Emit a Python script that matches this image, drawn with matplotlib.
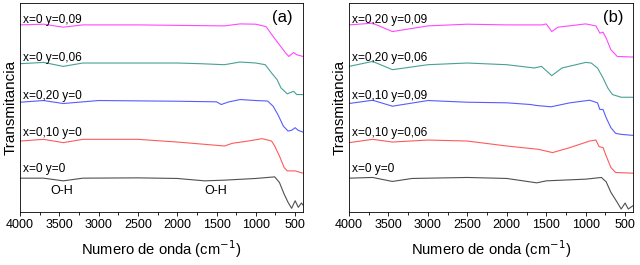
import numpy as np
import matplotlib
matplotlib.use("Agg")
import matplotlib.pyplot as plt
from matplotlib.ticker import MultipleLocator

plt.rcParams['font.family'] = ['Liberation Sans', 'DejaVu Sans']

# ---- panel (a) ----
wn_a0 = [4000, 3700, 3450, 3200, 2500, 2000, 1650, 1400, 1000, 760, 700, 640, 590, 545, 500, 460, 420, 400]
tr_a0 = [34, 34, 31.3, 34, 34.3, 33.7, 31.3, 32, 33.7, 35.3, 29.7, 18, 9.7, 3.7, 11.3, 4.7, 9, 7]

wn_a1 = [4000, 3700, 3450, 3200, 2500, 2000, 1500, 1400, 1300, 1100, 920, 800, 760, 700, 640, 600, 500, 400]
tr_a1 = [71.3, 73, 69.7, 73, 73, 70.3, 67, 66.3, 69, 71.3, 73.7, 71.3, 66.3, 56.3, 44.7, 41.3, 41.3, 39]

wn_a2 = [4000, 3700, 3450, 3000, 2000, 1500, 1440, 1350, 1200, 1000, 850, 780, 720, 650, 590, 540, 500, 460, 400]
tr_a2 = [110.3, 112, 109, 112, 111.3, 110.7, 108, 110.5, 113, 112, 111.5, 106.3, 98, 86.3, 81.3, 82.3, 84.7, 82, 80.3]

wn_a3 = [4000, 3700, 3450, 3200, 2000, 1700, 1400, 1200, 1000, 880, 800, 730, 680, 600, 520, 480, 400]
tr_a3 = [149, 150.3, 146.3, 149.7, 149.7, 149, 148, 150.7, 149.7, 148, 139.7, 133, 124.7, 118.7, 121.3, 118, 118]

wn_a4 = [4000, 3700, 3450, 3200, 2500, 1400, 1200, 1000, 870, 780, 700, 620, 580, 520, 480, 400]
tr_a4 = [188, 188.7, 185.7, 188, 188, 187, 189, 188.7, 186.3, 176.3, 168, 159.7, 156.3, 160.3, 158, 156.3]

# ---- panel (b) ----
wn_b0 = [4000, 3700, 3450, 3200, 2500, 2000, 1620, 1500, 1000, 800, 740, 680, 600, 550, 500, 460, 400]
tr_b0 = [34, 34.7, 30.7, 33.7, 34.7, 33.7, 29.3, 31.3, 33, 34.7, 30.3, 19.7, 9.7, 3, 9, 3, 6.3]

wn_b1 = [4000, 3700, 3450, 3000, 2500, 2000, 1600, 1420, 1200, 950, 870, 830, 780, 740, 680, 620, 400]
tr_b1 = [69.7, 73, 70.3, 72.3, 71.3, 66.3, 63, 59.7, 64.7, 71.3, 72.3, 65.7, 64.7, 56.3, 44.7, 39.7, 39]

wn_b2 = [4000, 3700, 3450, 3000, 2500, 2000, 1700, 1620, 1440, 1200, 950, 850, 820, 780, 740, 680, 620, 550, 400]
tr_b2 = [109, 112.3, 106.3, 112, 110.3, 109.7, 108, 107, 105.7, 109.7, 112.3, 109.7, 103, 103, 94.7, 84.7, 79, 78, 77]

wn_b3 = [4000, 3700, 3450, 3000, 2500, 2000, 1650, 1560, 1430, 1300, 1000, 930, 850, 780, 720, 660, 550, 400]
tr_b3 = [146.3, 151.3, 143, 148, 149.7, 148, 144.7, 146.3, 137, 144.7, 150.3, 149.7, 144.7, 134.7, 124.7, 118, 115.3, 115.3]

wn_b4 = [4000, 3700, 3450, 3000, 2500, 2000, 1550, 1500, 1430, 1350, 1000, 870, 820, 780, 740, 680, 600, 400]
tr_b4 = [188, 189.7, 181.3, 187, 188.7, 188, 188, 189, 181.3, 185.7, 189, 187, 179.7, 180.7, 174.7, 163, 156.3, 155.7]

colors = ['#505050', '#ff5a5a', '#5a5aff', '#48a096', '#ff48ff']
labels_a = ['x=0 y=0', 'x=0,10 y=0', 'x=0,20 y=0', 'x=0 y=0,06', 'x=0 y=0,09']
labels_b = ['x=0 y=0', 'x=0,10 y=0,06', 'x=0,10 y=0,09', 'x=0,20 y=0,06', 'x=0,20 y=0,09']
label_y = [43, 79, 117, 155, 193]

panels = [
    ([(wn_a0, tr_a0), (wn_a1, tr_a1), (wn_a2, tr_a2), (wn_a3, tr_a3), (wn_a4, tr_a4)], labels_a, '(a)'),
    ([(wn_b0, tr_b0), (wn_b1, tr_b1), (wn_b2, tr_b2), (wn_b3, tr_b3), (wn_b4, tr_b4)], labels_b, '(b)'),
]

fig = plt.figure(figsize=(6.4, 2.65), dpi=100)
ax_a = fig.add_axes([20/640, 1-212/265, 283/640, 209/265])
ax_b = fig.add_axes([349/640, 1-212/265, 284/640, 209/265])

for ax, (curves, labels, tag) in zip([ax_a, ax_b], panels):
    for (wn, tr), c, lab, ly in zip(curves, colors, labels, label_y):
        ax.plot(wn, tr, color=c, lw=0.8)
        ax.text(3960, ly, lab, fontsize=8.6, va='center', ha='left')
    ax.set_xlim(4000, 400)
    ax.set_ylim(0, 210)
    ax.set_yticks([])
    ax.xaxis.set_major_locator(MultipleLocator(500))
    ax.xaxis.set_minor_locator(MultipleLocator(250))
    ax.tick_params(axis='x', which='major', direction='out', length=3, width=0.6, labelsize=9, pad=2)
    ax.tick_params(axis='x', which='minor', direction='out', length=2, width=0.6)
    for s in ax.spines.values():
        s.set_linewidth(0.6)
    ax.text(0.965, 0.93, tag, transform=ax.transAxes, ha='right', va='center', fontsize=12)
    ax.set_ylabel('Transmitancia', fontsize=11, labelpad=2)
    ax.set_xlabel('Numero de onda (cm$^{-1}$)', fontsize=10.6, labelpad=5)

ax_a.text(3470, 21, 'O-H', fontsize=9, ha='center', va='center')
ax_a.text(1510, 21, 'O-H', fontsize=9, ha='center', va='center')

fig.savefig('out.png', dpi=100)
